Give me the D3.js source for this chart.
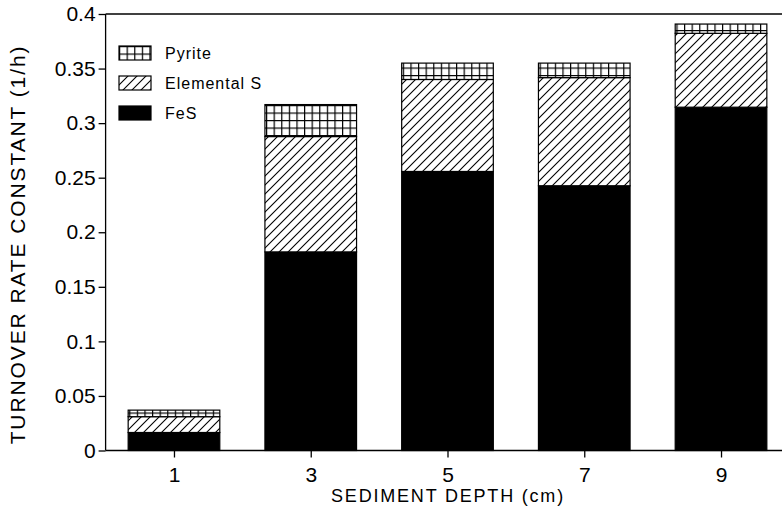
<!doctype html>
<html lang="en">
  <head>
    <meta charset="utf-8">
    <title>Turnover rate constant</title>
    <style>
    body { margin: 0; background: #fff; }
    svg text { font-family: "Liberation Sans", Arial, sans-serif; fill: #000; }
    .axis path, .axis line { stroke: #000; stroke-width: 1.3px; }
    .axis text { font-size: 21px; }
    </style>
    <script src="https://d3js.org/d3.v7.min.js"></script>
  </head>
  <body>
    <svg width="782" height="513"></svg>
    <script>

    // values
    var depths = [1, 3, 5, 7, 9];
    var fes = [0.0165, 0.182, 0.2557, 0.2426, 0.3146];
    var elementalS = [0.0145, 0.1057, 0.0843, 0.0991, 0.0677];
    var pyrite = [0.006, 0.0293, 0.015, 0.0133, 0.0085];
    var yTicks = [0, 0.05, 0.1, 0.15, 0.2, 0.25, 0.3, 0.35, 0.4];
    var yTickLabels = ["0", "0.05", "0.1", "0.15", "0.2", "0.25", "0.3", "0.35", "0.4"];
    var seriesNames = ["FeS", "Elemental S", "Pyrite"];

    var svg = d3.select("svg"),
        plotLeft = 105.6, plotRight = 789.4, plotTop = 14, plotBottom = 450.5;

    var x = d3.scaleLinear().domain([0, 10]).range([plotLeft, plotRight]);
    var y = d3.scaleLinear().domain([0, 0.4]).range([plotBottom, plotTop]);
    var barW = x(1.34) - x(0);

    var defs = svg.append("defs");

    // diagonal hatch for elemental S
    var hatch = defs.append("pattern")
        .attr("id", "hatch")
        .attr("patternUnits", "userSpaceOnUse")
        .attr("width", 9).attr("height", 9);
    hatch.append("rect").attr("width", 9).attr("height", 9).attr("fill", "#fff");
    hatch.append("path")
        .attr("d", "M-1,10L10,-1M-2,2L2,-2M7,11L11,7")
        .attr("stroke", "#000").attr("stroke-width", 1.1);

    // grid for pyrite
    var grid = defs.append("pattern")
        .attr("id", "grid")
        .attr("patternUnits", "userSpaceOnUse")
        .attr("width", 7.6).attr("height", 7.5);
    grid.append("rect").attr("width", 7.6).attr("height", 7.5).attr("fill", "#fff");
    grid.append("path")
        .attr("d", "M0.6,0V7.5M0,0.6H7.6")
        .attr("stroke", "#000").attr("stroke-width", 1.2);

    var fills = ["#000", "url(#hatch)", "url(#grid)"];

    var rows = depths.map(function(d, i) {
      return { depth: d, FeS: fes[i], "Elemental S": elementalS[i], Pyrite: pyrite[i] };
    });
    var stacked = d3.stack().keys(seriesNames)(rows);

    var layers = svg.append("g").selectAll("g")
        .data(stacked)
        .enter().append("g")
        .attr("fill", function(d, i) { return fills[i]; });

    layers.selectAll("rect")
        .data(function(d) { return d; })
        .enter().append("rect")
        .attr("x", function(d) { return x(d.data.depth) - barW / 2; })
        .attr("width", barW)
        .attr("y", function(d) { return y(d[1]); })
        .attr("height", function(d) { return y(d[0]) - y(d[1]); })
        .attr("stroke", "#000")
        .attr("stroke-width", 1.2);

    // frame: top line and baseline run to the picture edge
    svg.append("line")
        .attr("x1", plotLeft).attr("x2", plotRight)
        .attr("y1", plotTop).attr("y2", plotTop)
        .attr("stroke", "#000").attr("stroke-width", 1.3);

    svg.append("g")
        .attr("class", "axis")
        .attr("transform", "translate(" + plotLeft + ",0)")
        .call(d3.axisLeft(y).tickValues(yTicks).tickSize(7).tickPadding(3)
          .tickFormat(function(d, i) { return yTickLabels[i]; }))
        .call(function(g) { g.select(".domain").attr("d", "M0," + plotTop + "V" + plotBottom); });

    svg.append("g")
        .attr("class", "axis")
        .attr("transform", "translate(0," + plotBottom + ")")
        .call(d3.axisBottom(x).tickValues(depths).tickSize(7).tickPadding(10)
          .tickFormat(d3.format("d")))
        .call(function(g) { g.select(".domain").attr("d", "M" + plotLeft + ",0H" + plotRight); });

    // axis titles
    svg.append("text")
        .attr("transform", "translate(25,244.5) rotate(-90)")
        .attr("text-anchor", "middle")
        .style("font-size", "21px")
        .style("letter-spacing", "1.9px")
        .text("TURNOVER RATE CONSTANT (1/h)");

    svg.append("text")
        .attr("x", 448)
        .attr("y", 502)
        .attr("text-anchor", "middle")
        .style("font-size", "18px")
        .style("letter-spacing", "1.8px")
        .text("SEDIMENT DEPTH (cm)");

    // legend, top entry first
    var legendItems = [
      { name: "Pyrite", fill: "url(#grid)", y: 46 },
      { name: "Elemental S", fill: "url(#hatch)", y: 76 },
      { name: "FeS", fill: "#000", y: 106 }
    ];

    var legend = svg.append("g").selectAll("g")
        .data(legendItems)
        .enter().append("g")
        .attr("transform", function(d) { return "translate(119," + d.y + ")"; });

    legend.append("rect")
        .attr("width", 32).attr("height", 14)
        .attr("fill", function(d) { return d.fill; })
        .attr("stroke", "#000").attr("stroke-width", 1.2);

    legend.append("text")
        .attr("x", 46).attr("y", 13)
        .style("font-size", "16px")
        .style("letter-spacing", "1px")
        .text(function(d) { return d.name; });

    </script>
  </body>
</html>
